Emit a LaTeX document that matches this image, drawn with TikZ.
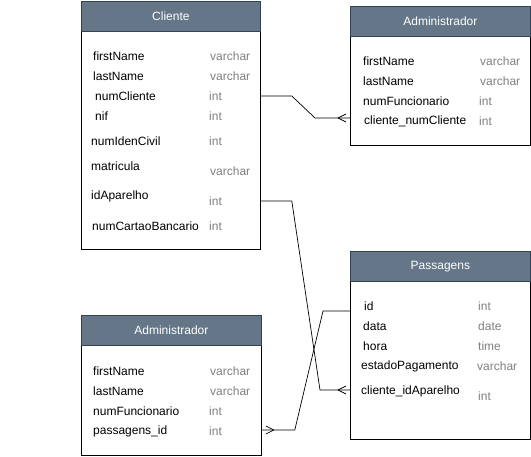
\documentclass[tikz,border=0pt]{standalone}
\usepackage{fontspec}
\setmainfont{Liberation Sans}
\usetikzlibrary{positioning,calc}
\definecolor{hdr}{HTML}{647687}
\definecolor{hdrline}{HTML}{314354}
\definecolor{typegray}{HTML}{808080}
\tikzset{
  tbody/.style={draw=black,line width=0.8pt,fill=white,anchor=north west,inner sep=0pt},
  thead/.style={draw=hdrline,line width=0.8pt,fill=hdr,text=white,anchor=north west,inner sep=0pt,font=\fontsize{12}{14}\selectfont},
  fld/.style={anchor=west,inner sep=0pt,font=\fontsize{12}{14}\selectfont},
  typ/.style={fld,text=typegray},
  conn/.style={draw=black,line width=0.7pt},
}
\newcommand\crowsfoot[2]{%
  \draw[conn] ($(#1)+(#2*-12,0)$) -- ($(#1)+(#2*-4,4)$);
  \draw[conn] ($(#1)+(#2*-12,0)$) -- ($(#1)+(#2*-4,-4)$);
}
\begin{document}
\begin{tikzpicture}[x=1pt,y=-1pt]
\useasboundingbox (0,0) rectangle (531,456);
% Cliente
\node[tbody,minimum width=179pt,minimum height=248pt] (cliente) at (81,1) {};
\node[thead,minimum width=179pt,minimum height=30pt] (clienteh) at (81,1) {Cliente};
\node[fld] (cfirst) at (93,56) {firstName};
\node[typ] (ctfirst) at (210,56) {varchar};
\node[fld] (clast) at (93,76) {lastName};
\node[typ] (ctlast) at (210,76) {varchar};
\node[fld] (cnum) at (95,96) {numCliente};
\node[typ] (ctnum) at (209,96) {int};
\node[fld] (cnif) at (95,116) {nif};
\node[typ] (ctnif) at (209,116) {int};
\node[fld] (civil) at (91,141) {numIdenCivil};
\node[typ] (ctcivil) at (209,141) {int};
\node[fld] (cmat) at (91,166) {matricula};
\node[typ] (ctmat) at (210,171) {varchar};
\node[fld] (cidap) at (91,196) {idAparelho};
\node[typ] (ctidap) at (209,201) {int};
\node[fld] (ccartao) at (92,226) {numCartaoBancario};
\node[typ] (ctcartao) at (209,226) {int};
% Administrador (top)
\node[tbody,minimum width=180pt,minimum height=139pt] (admA) at (350,6) {};
\node[thead,minimum width=180pt,minimum height=30pt] (admAh) at (350,6) {Administrador};
\node[fld] (afirst) at (363,61) {firstName};
\node[typ] (atfirst) at (480,61) {varchar};
\node[fld] (alast) at (363,81) {lastName};
\node[typ] (atlast) at (480,81) {varchar};
\node[fld] (afunc) at (363,101) {numFuncionario};
\node[typ] (atfunc) at (479,101) {int};
\node[fld] (acli) at (364,121) {cliente\_numCliente};
\node[typ] (atcli) at (479,121) {int};
% Administrador (bottom)
\node[tbody,minimum width=180pt,minimum height=140pt] (admB) at (81,315) {};
\node[thead,minimum width=180pt,minimum height=30pt] (admBh) at (81,315) {Administrador};
\node[fld] (bfirst) at (93,371) {firstName};
\node[typ] (btfirst) at (210,371) {varchar};
\node[fld] (blast) at (93,391) {lastName};
\node[typ] (btlast) at (210,391) {varchar};
\node[fld] (bfunc) at (93,411) {numFuncionario};
\node[typ] (btfunc) at (209,411) {int};
\node[fld] (bpass) at (93,431) {passagens\_id};
\node[typ] (btpass) at (209,431) {int};
% Passagens
\node[tbody,minimum width=180pt,minimum height=188pt] (pass) at (350,251) {};
\node[thead,minimum width=180pt,minimum height=30pt] (passh) at (350,251) {Passagens};
\node[fld] (pid) at (364,306) {id};
\node[typ] (ptid) at (478,306) {int};
\node[fld] (pdata) at (363,326) {data};
\node[typ] (ptdata) at (478,326) {date};
\node[fld] (phora) at (363,346) {hora};
\node[typ] (pthora) at (478,346) {time};
\node[fld] (pest) at (361,366) {estadoPagamento};
\node[typ] (ptest) at (477,366) {varchar};
\node[fld] (pcli) at (361,391) {cliente\_idAparelho};
\node[typ] (ptcli) at (478,396) {int};
% connectors
\coordinate (e1) at ($(admA.west |- acli)+(0,-3)$);
\draw[conn] (cliente.east |- cnum) -- ++(31,0) -- ($(e1)+(-35,0)$) -- (e1);
\crowsfoot{e1}{1}
\coordinate (e2) at ($(pass.west |- pcli)+(0,-1)$);
\draw[conn] (cliente.east |- ctidap) -- ++(31,0) -- ($(e2)+(-30,0)$) -- (e2);
\crowsfoot{e2}{1}
\coordinate (e3) at ($(admB.east |- bpass)+(0,-1)$);
\draw[conn] ($(pass.west |- pid)+(0,5)$) -- ++(-27,0) -- ($(e3)+(33,0)$) -- (e3);
\crowsfoot{e3}{-1}
\end{tikzpicture}
\end{document}
